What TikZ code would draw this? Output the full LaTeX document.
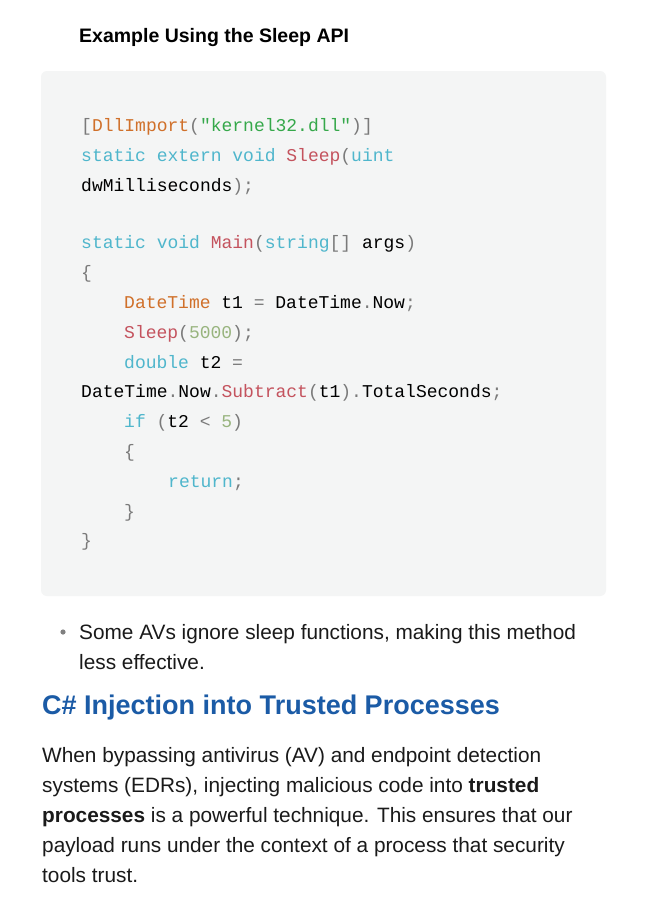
\documentclass[tikz,border=0pt]{standalone}
\usepackage{fontspec}
\setmainfont{Liberation Sans}
\setmonofont{Liberation Mono}
\definecolor{kw}{HTML}{4FB6CC}
\definecolor{fn}{HTML}{C4535E}
\definecolor{at}{HTML}{D0702A}
\definecolor{st}{HTML}{35A84A}
\definecolor{nm}{HTML}{98B47E}
\definecolor{pu}{HTML}{7A7A7A}
\definecolor{hd}{HTML}{1B5BA6}
\definecolor{bx}{HTML}{F4F5F5}
\definecolor{tx}{HTML}{1A1A1A}
\tikzset{
 code/.style={anchor=base west,inner sep=0pt,font=\ttfamily\fontsize{18}{20}\selectfont,text=black},
 body/.style={anchor=base west,inner sep=0pt,font=\fontsize{20.8}{23}\selectfont,text=tx},
}
\newcommand{\K}[1]{\textcolor{kw}{#1}}
\newcommand{\F}[1]{\textcolor{fn}{#1}}
\newcommand{\A}[1]{\textcolor{at}{#1}}
\newcommand{\Sg}[1]{\textcolor{st}{#1}}
\newcommand{\N}[1]{\textcolor{nm}{#1}}
\newcommand{\Pu}[1]{\textcolor{pu}{#1}}
\begin{document}
\begin{tikzpicture}[x=1pt,y=-1pt]
\useasboundingbox (0,0) rectangle (654,921);
\fill[white] (0,0) rectangle (654,921);
\node[anchor=base west,inner sep=0pt,font=\bfseries\fontsize{19.5}{22}\selectfont] (title) at (79,42) {Example Using the Sleep API};
\fill[bx,rounded corners=6pt] (41,71) rectangle (606,596);
\node[code] (c1) at (81,131) {\Pu{[}\A{DllImport}\Pu{(}\Sg{"kernel32.dll"}\Pu{)]}};
\node[code] (c2) at (81,161) {\K{static extern void} \F{Sleep}\Pu{(}\K{uint}};
\node[code] (c3) at (81,191) {dwMilliseconds\Pu{);}};
\node[code] (c4) at (81,248) {\K{static void} \F{Main}\Pu{(}\K{string}\Pu{[]} args\Pu{)}};
\node[code] (c5) at (81,278) {\Pu{\{}};
\node[code] (c6) at (124,308) {\A{DateTime} t1 \Pu{=} DateTime\Pu{.}Now\Pu{;}};
\node[code] (c7) at (124,338) {\F{Sleep}\Pu{(}\N{5000}\Pu{);}};
\node[code] (c8) at (124,368) {\K{double} t2 \Pu{=}};
\node[code] (c9) at (81,397) {DateTime\Pu{.}Now\Pu{.}\F{Subtract}\Pu{(}t1\Pu{).}TotalSeconds\Pu{;}};
\node[code] (c10) at (124,427) {\K{if} \Pu{(}t2 \Pu{<} \N{5}\Pu{)}};
\node[code] (c11) at (124,457) {\Pu{\{}};
\node[code] (c12) at (168,487) {\K{return}\Pu{;}};
\node[code] (c13) at (124,517) {\Pu{\}}};
\node[code] (c14) at (81,546) {\Pu{\}}};
\fill[gray] (63,632) circle (2.6pt);
\node[body] (b1) at (79,639) {Some AVs ignore sleep functions, making this method};
\node[body] (b2) at (79,669) {less effective.};
\node[anchor=base west,inner sep=0pt,font=\bfseries\fontsize{27}{30}\selectfont,text=hd] (h) at (42,714) {C\# Injection into Trusted Processes};
\node[body] (p1) at (42,762) {When bypassing antivirus (AV) and endpoint detection};
\node[body] (p2) at (42,792) {systems (EDRs), injecting malicious code into \textbf{trusted}};
\node[body] (p3) at (42,822) {\textbf{processes} is a powerful technique. This ensures that our};
\node[body] (p4) at (42,852) {payload runs under the context of a process that security};
\node[body] (p5) at (42,882) {tools trust.};
\end{tikzpicture}
\end{document}
